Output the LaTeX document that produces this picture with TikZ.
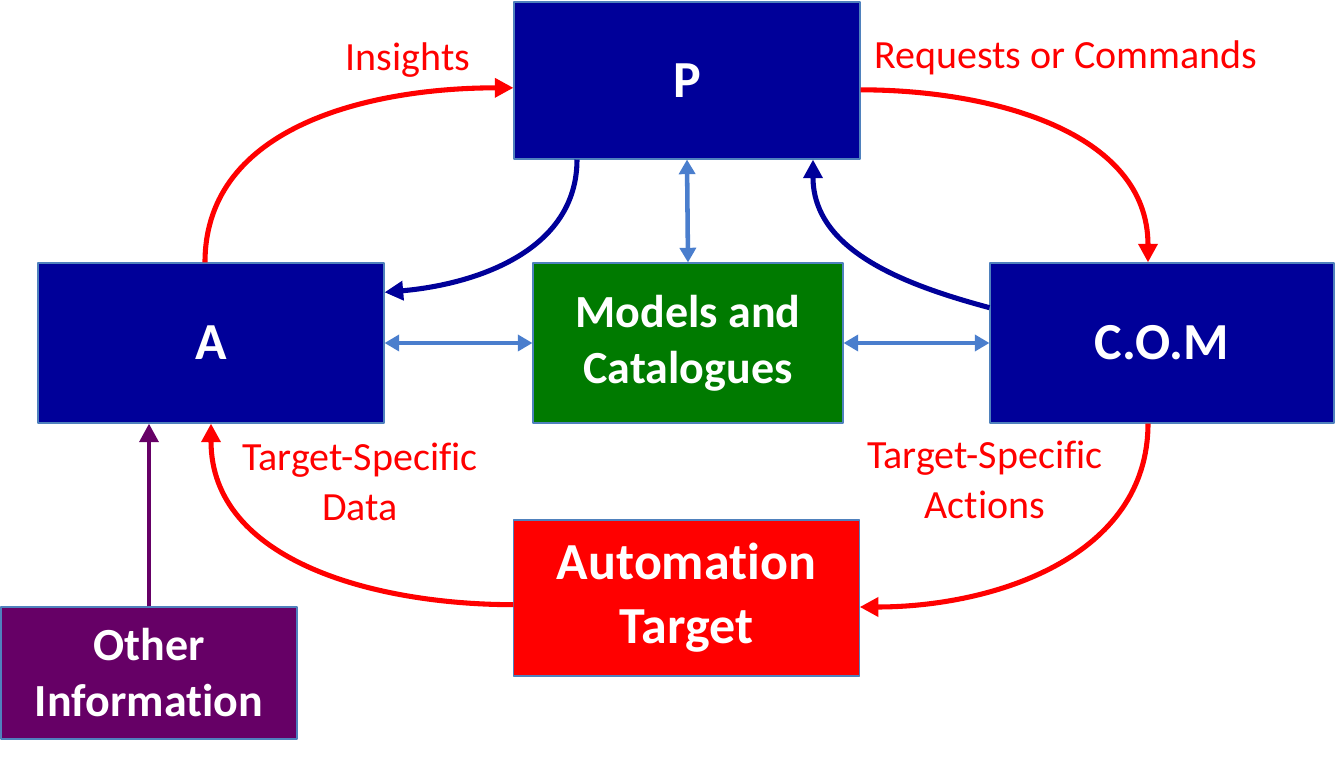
\documentclass[tikz,border=0pt]{standalone}
\usepackage{fontspec}
\setmainfont[Ligatures=NoCommon]{Carlito}
\usetikzlibrary{arrows.meta}
\definecolor{navy}{RGB}{0,0,153}
\definecolor{boxline}{RGB}{79,129,189}
\definecolor{mgreen}{RGB}{0,122,0}
\definecolor{mpurple}{RGB}{102,0,102}
\definecolor{linkblue}{RGB}{74,126,205}
\tikzset{
 box/.style={draw=boxline,line width=0.8pt,inner sep=0pt,align=center,text=white,
  font=\bfseries\fontsize{39}{48}\selectfont},
 smallbox/.style={box,font=\bfseries\fontsize{34.5}{42}\selectfont},
 lbl/.style={text=red,align=center,inner sep=0pt,font=\fontsize{30}{37.5}\selectfont},
 redline/.style={red,line width=3.8pt},
 navyline/.style={navy,line width=3.8pt},
 linkline/.style={linkblue,line width=3.4pt,>={Triangle[length=11pt,width=12pt]}},
}
\begin{document}
\begin{tikzpicture}[x=0.75pt,y=0.75pt,>={Triangle[length=14pt,width=14pt]},line join=round]
 \useasboundingbox (0,0) rectangle (1336,761);
 % boxes
 \node[box,fill=navy,minimum width=259.5pt,minimum height=117.75pt] (P) at (687,680.5) {P};
 \node[box,fill=navy,minimum width=259.5pt,minimum height=120pt] (A) at (211,418) {A};
 \node[smallbox,fill=mgreen,minimum width=232.5pt,minimum height=120pt] (models) at (688,418) {Models and\\Catalogues};
 \node[box,fill=navy,minimum width=258pt,minimum height=120pt] (com) at (1162,418) {C.O.M};
 \node[box,fill=red,minimum width=259pt,minimum height=117pt] (target) at (686.5,163) {Automation\\Target};
 \node[smallbox,fill=mpurple,minimum width=222pt,minimum height=99pt] (other) at (149,88) {Other\\Information};
 % labels
 \node[lbl] (insights) at (408,701) {Insights};
 \node[lbl] (requests) at (1066,703) {Requests or Commands};
 \node[lbl] (tsdata) at (360,279) {Target-Specific\\Data};
 \node[lbl] (tsactions) at (985,281) {Target-Specific\\Actions};
 % loop
 \draw[redline,->] ([xshift=-4.5pt]A.north) to[out=90,in=180] ([yshift=-5.5pt]P.west);
 \draw[redline,->] ([yshift=-7pt]P.east) to[out=0,in=90] ([xshift=-10.5pt]com.north);
 \draw[redline,->] ([xshift=-10.5pt]com.south) to[out=-90,in=0] ([yshift=-6.75pt]target.east);
 \draw[redline,->] ([yshift=-5pt]target.west) to[out=180,in=-90] (A.south);
 \draw[navyline,->] ([xshift=-82.5pt]P.south) to[out=-90,in=5] ([yshift=38pt]A.east);
 \draw[navyline,->] ([yshift=26.5pt]com.west) to[out=165,in=-90] ([xshift=94.5pt]P.south);
 % models links
 \draw[linkline,<->] (P.south) -- (models.north);
 \draw[linkline,<->] (A.east) -- (models.west);
 \draw[linkline,<->] (models.east) -- (com.west);
 \draw[mpurple,line width=3.4pt,->] (other.north) -- (other.north |- A.south);
\end{tikzpicture}
\end{document}
